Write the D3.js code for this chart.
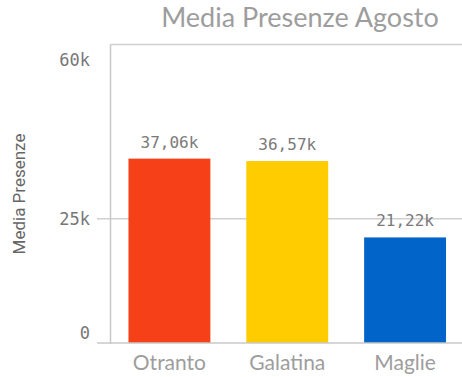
<!DOCTYPE html>
<html>
<head>
<meta charset="utf-8">
<script src="https://cdn.jsdelivr.net/npm/d3@7"></script>
<style>
  html, body { margin: 0; padding: 0; background: #fff; }
  svg { display: block; }
</style>
</head>
<body>
<svg id="chart" width="462" height="377"></svg>
<script>
const categories = ["Otranto", "Galatina", "Maglie"];
const values = [37060, 36570, 21220];
const valueLabels = ["37,06k", "36,57k", "21,22k"];
const colors = ["#f64018", "#ffcc00", "#0064c8"];
const tickValues = [0, 25000, 60000];
const tickLabels = ["0", "25k", "60k"];
const title = "Media Presenze Agosto";
const yTitle = "Media Presenze";

const svg = d3.select("#chart");
const mLeft = 110.5, mRight = 464, mTop = 44.5, mBottom = 343;

const x = d3.scaleBand().domain(categories).range([mLeft, mRight])
  .paddingInner(0.305).paddingOuter(0.1525);
const y = d3.scaleLinear().domain([0, 60000]).range([mBottom, mTop]);
// labels are inset from the plot edges
const yLab = d3.scaleLinear().domain([0, 60000]).range([333, 60]);

// title
svg.append("text")
  .attr("x", 300).attr("y", 26.5)
  .attr("text-anchor", "middle")
  .attr("font-family", "Lato, 'Open Sans', sans-serif")
  .attr("font-size", 27)
  .attr("fill", "#9d9d9d")
  .text(title);

// frame & gridlines
svg.append("line").attr("x1", mLeft).attr("x2", 462).attr("y1", y(60000)).attr("y2", y(60000))
  .attr("stroke", "#d0d0d0").attr("stroke-width", 1.5);
svg.append("line").attr("x1", 97).attr("x2", 462).attr("y1", y(25000)).attr("y2", y(25000))
  .attr("stroke", "#d0d0d0").attr("stroke-width", 1.5);

// bars
svg.selectAll("rect.bar").data(categories).enter().append("rect")
  .attr("class", "bar")
  .attr("x", d => x(d))
  .attr("width", x.bandwidth())
  .attr("y", (d, i) => y(values[i]))
  .attr("height", (d, i) => y(0) - y(values[i]))
  .attr("fill", (d, i) => colors[i]);

// baseline and axis line
svg.append("line").attr("x1", 97).attr("x2", 462).attr("y1", y(0)).attr("y2", y(0))
  .attr("stroke", "#c8c8c8").attr("stroke-width", 1.5);
svg.append("line").attr("x1", mLeft).attr("x2", mLeft).attr("y1", mTop).attr("y2", y(0) + 1)
  .attr("stroke", "#c8c8c8").attr("stroke-width", 1.5);

// tick labels
svg.selectAll("text.ytick").data(tickValues).enter().append("text")
  .attr("class", "ytick")
  .attr("x", 90).attr("y", d => yLab(d))
  .attr("dy", "0.36em")
  .attr("text-anchor", "end")
  .attr("font-family", "'DejaVu Sans Mono', monospace")
  .attr("font-size", 17)
  .attr("fill", "#777")
  .text((d, i) => tickLabels[i]);

// value labels
svg.selectAll("text.val").data(categories).enter().append("text")
  .attr("class", "val")
  .attr("x", d => x(d) + x.bandwidth() / 2)
  .attr("y", (d, i) => y(values[i]) - 11)
  .attr("text-anchor", "middle")
  .attr("font-family", "'DejaVu Sans Mono', monospace")
  .attr("font-size", 16)
  .attr("fill", "#7a7a7a")
  .text((d, i) => valueLabels[i]);

// category labels
svg.selectAll("text.cat").data(categories).enter().append("text")
  .attr("class", "cat")
  .attr("x", d => x(d) + x.bandwidth() / 2)
  .attr("y", 370)
  .attr("text-anchor", "middle")
  .attr("font-family", "Lato, 'Open Sans', sans-serif")
  .attr("font-size", 21)
  .attr("fill", "#9d9d9d")
  .text(d => d);

// y axis title
svg.append("text")
  .attr("transform", "translate(25,194) rotate(-90)")
  .attr("text-anchor", "middle")
  .attr("font-family", "Roboto, sans-serif")
  .attr("font-size", 17)
  .attr("fill", "#666")
  .text(yTitle);
</script>
</body>
</html>
